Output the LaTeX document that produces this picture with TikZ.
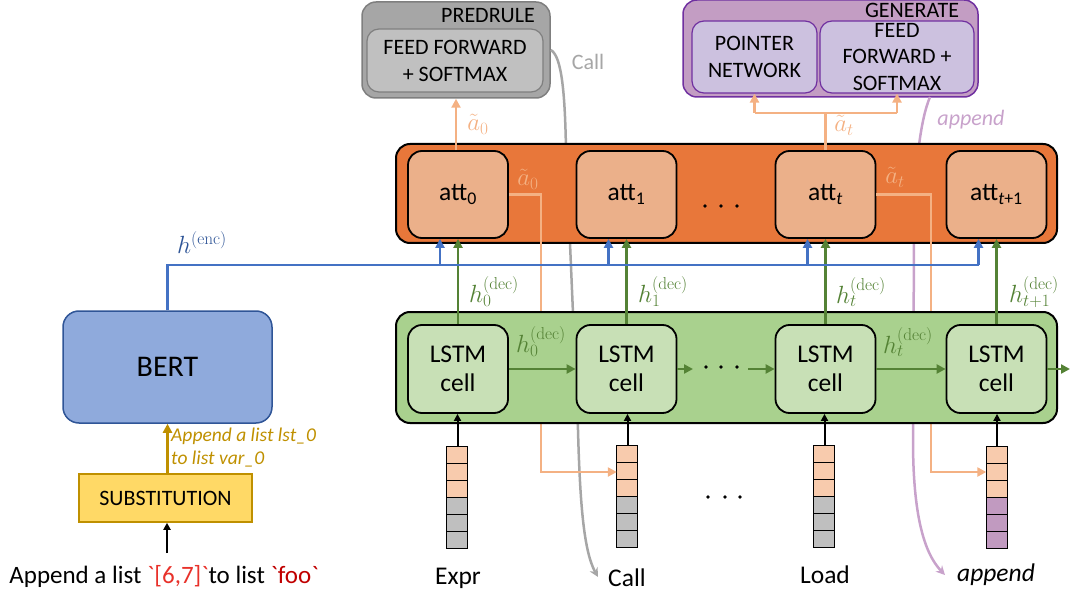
\documentclass[tikz,border=0pt]{standalone}
\usepackage[no-math]{fontspec}
\setmainfont{Carlito}
\usetikzlibrary{arrows.meta,calc}
\definecolor{attBg}{HTML}{E8773A}
\definecolor{attFill}{HTML}{EBB08A}
\definecolor{lstmBg}{HTML}{A9D18E}
\definecolor{cellFill}{HTML}{C8E0B6}
\definecolor{gArrow}{HTML}{548235}
\definecolor{bLine}{HTML}{4472C4}
\definecolor{encLab}{HTML}{2F5597}
\definecolor{bertFill}{HTML}{8FAADC}
\definecolor{bertBorder}{HTML}{2F5597}
\definecolor{substFill}{HTML}{FFD966}
\definecolor{gold}{HTML}{BF9000}
\definecolor{peach}{HTML}{F4B183}
\definecolor{vPeach}{HTML}{F8CBAD}
\definecolor{vGray}{HTML}{BFBFBF}
\definecolor{vPurple}{HTML}{C19AC0}
\definecolor{predOut}{HTML}{A6A6A6}
\definecolor{predIn}{HTML}{C0C0C0}
\definecolor{predBorder}{HTML}{7F7F7F}
\definecolor{genOut}{HTML}{C39DC3}
\definecolor{genIn}{HTML}{CCC1DF}
\definecolor{genBorder}{HTML}{7030A0}
\definecolor{curveGray}{HTML}{A6A6A6}
\definecolor{curvePurple}{HTML}{C8A2CB}
\definecolor{redA}{HTML}{E8312A}
\definecolor{redB}{HTML}{C00000}
\newcommand\fsL{\fontsize{25.5}{29}\selectfont}
\newcommand\fsM{\fontsize{22}{26.5}\selectfont}
\newcommand\fsS{\fontsize{19.5}{23}\selectfont}
\newcommand\fsMath{\fontsize{27}{31}\selectfont}
\newcommand\drawvec[2]{%
  \foreach \k in {0,1,2}{\draw[line width=1.2pt, fill=vPeach] ($(#1.north west)+(0,17*\k)$) rectangle ++(21,17);}
  \foreach \k in {3,4,5}{\draw[line width=1.2pt, fill=#2] ($(#1.north west)+(0,17*\k)$) rectangle ++(21,17);}
}
\begin{document}
\begin{tikzpicture}[x=1pt,y=-1pt,
  every node/.style={inner sep=0pt},
  container/.style={draw=black, line width=2pt, rounded corners=14pt, minimum width=661pt},
  attbox/.style={draw=black, line width=1.8pt, fill=attFill, rounded corners=14pt, minimum width=100pt, minimum height=87pt, font=\fsL},
  cellbox/.style={draw=black, line width=1.8pt, fill=cellFill, rounded corners=14pt, minimum width=100pt, minimum height=88pt, font=\fsL, align=center},
  vecnode/.style={minimum width=21pt, minimum height=102pt},
  tip/.style={-{Triangle[width=9pt,length=9pt]}},
  garr/.style={tip, draw=gArrow, line width=2.5pt},
  barr/.style={tip, draw=bLine, line width=2.5pt},
  bline/.style={draw=bLine, line width=2.5pt},
  pline/.style={draw=peach, line width=2.5pt},
  parr/.style={tip, draw=peach, line width=2.5pt},
  karr/.style={-{Triangle[width=7pt,length=7pt]}, draw=black, line width=2pt},
  curve/.style={line width=2.5pt, -{Stealth[width=9pt,length=9pt]}},
  vlabel/.style={font=\fsL},
  declab/.style={text=gArrow, font=\fsMath},
  alab/.style={text=peach, font=\fsMath}
]
\useasboundingbox (0,0) rectangle (1071,596);

% ---------- PREDRULE ----------
\node[draw=predBorder, line width=1.5pt, fill=predOut, rounded corners=14pt, minimum width=188pt, minimum height=96pt] (predOuter) at (456,50) {};
\node[draw=predBorder, line width=1.2pt, fill=predIn, rounded corners=12pt, minimum width=176pt, minimum height=63pt] (predInner) at (455,60.5) {};
\node[font=\fsM, align=center] (predText) at (455,61) {FEED FORWARD\\+ SOFTMAX};
\node[font=\fsM] (predTitle) at (488,16) {PREDRULE};

% ---------- GENERATE ----------
\node[draw=genBorder, line width=1.5pt, fill=genOut, rounded corners=14pt, minimum width=295pt, minimum height=97pt] (genOuter) at (830.5,48.5) {};
\node[font=\fsM] (genTitle) at (912,10) {GENERATE};
\node[draw=genBorder, line width=1.2pt, fill=genIn, rounded corners=12pt, minimum width=125pt, minimum height=72pt] (ptr) at (754.5,57) {};
\node[font=\fsM, align=center] (ptrText) at (754.5,57) {POINTER\\NETWORK};
\node[draw=genBorder, line width=1.2pt, fill=genIn, rounded corners=12pt, minimum width=154pt, minimum height=72pt] (ffs) at (897,57) {};
\node[font=\fsM, align=center] (ffsText) at (897,57) {FEED\\FORWARD +\\SOFTMAX};

% ---------- curves (behind containers) ----------
\draw[curve, draw=curveGray] (predOuter.east) .. controls (562,56) and (565,95) .. (566,150) -- (578,430) .. controls (580,505) and (584,552) .. (598,577);
\node[text=curveGray, font=\fsM] (callLab) at (588,62) {Call};
\draw[curve, draw=curvePurple] (930,97) .. controls (921,118) and (914,165) .. (914,240) -- (913,440) .. controls (913,515) and (924,553) .. (945,575);
\node[text=curvePurple, font=\fsM\itshape] (appLab) at (971,120) {append};

% ---------- attention row ----------
\node[container, fill=attBg, minimum height=99pt] (attRow) at (726.5,193.5) {};
\node[attbox] (a0) at (458,194.5) {att\textsubscript{0}};
\node[attbox] (a1) at (626.5,194.5) {att\textsubscript{1}};
\node[attbox] (at) at (825.5,194.5) {att\textsubscript{\itshape t}};
\node[attbox] (at1) at (996.5,194.5) {att\textsubscript{\itshape t\upshape +1}};
\foreach \x in {705,721,737} \fill (\x,206) circle (1.8);

% ---------- vectors ----------
\node[vecnode] (v0) at (457.5,498) {};
\node[vecnode] (v1) at (627.5,497) {};
\node[vecnode] (v2) at (824.5,497) {};
\node[vecnode] (v3) at (997,498) {};
\drawvec{v0}{vGray}
\drawvec{v1}{vGray}
\drawvec{v2}{vGray}
\drawvec{v3}{vPurple}

% ---------- peach a~ lines ----------
\coordinate (d0) at (541,472);
\coordinate (dt) at (931,472);
\draw[parr] (a0.east) -| (d0) -- (d0 -| v1.west);
\draw[parr] (at.east) -| (dt) -- (dt -| v3.west);
\node[alab] (a0side) at (528,179) {$\tilde{a}_0$};
\node[alab] (atside) at (895,177) {$\tilde{a}_t$};
\draw[parr] (a0.north) ++(-2,0) coordinate (a0top) -- (a0top |- predOuter.south);
\node[alab] (a0up) at (478,124) {$\tilde{a}_0$};
\coordinate (fk) at (825.5,113);
\draw[pline] (at.north) -- (at.north |- fk);
\draw[pline] (ptr.south |- fk) -- (ffs.south |- fk);
\draw[parr] (ptr.south |- fk) -- (ptr.south);
\draw[parr] (ffs.south |- fk) -- (ffs.south);
\node[alab] (atup) at (844,125) {$\tilde{a}_t$};

% ---------- LSTM row ----------
\node[container, fill=lstmBg, minimum height=111pt] (lstmRow) at (726.5,367.5) {};
\node[cellbox] (c0) at (458,369) {LSTM\\cell};
\node[cellbox] (c1) at (626.5,369) {LSTM\\cell};
\node[cellbox] (ct) at (825.5,369) {LSTM\\cell};
\node[cellbox] (ct1) at (996.5,369) {LSTM\\cell};
\draw[garr] (c0.east) -- (c1.west);
\coordinate (m1) at (693,369);
\coordinate (m2) at (748,369);
\draw[garr] (c1.east) -- (m1);
\foreach \x in {706,721,737} \fill (\x,367) circle (1.8);
\draw[garr] (m2) -- (ct.west);
\draw[garr] (ct.east) -- (ct1.west);
\coordinate (m3) at (1070,369);
\draw[garr] (ct1.east) -- (m3);
\node[declab] (hh0) at (541,342) {$h_0^{(\mathrm{dec})}$};
\node[declab] (hht) at (908,342) {$h_t^{(\mathrm{dec})}$};

% ---------- green vertical arrows ----------
\draw[garr] (c0.north) -- (a0.south);
\draw[garr] (c1.north) -- (a1.south);
\draw[garr] (ct.north) -- (at.south);
\draw[garr] (ct1.north) -- (at1.south);
\node[declab] (hv0) at (494,292) {$h_0^{(\mathrm{dec})}$};
\node[declab] (hv1) at (663,292) {$h_1^{(\mathrm{dec})}$};
\node[declab] (hvt) at (861,292) {$h_t^{(\mathrm{dec})}$};
\node[declab] (hvt1) at (1034,292) {$h_{t+1}^{(\mathrm{dec})}$};

% ---------- vector inputs ----------
\draw[karr] (v0.north) -- (v0.north |- c0.south);
\draw[karr] (v1.north) -- (v1.north |- c1.south);
\draw[karr] (v2.north) -- (v2.north |- ct.south);
\draw[karr] (v3.north) -- (v3.north |- ct1.south);
\node[vlabel] (lExpr) at (458,578) {Expr};
\node[vlabel] (lCall) at (627,578) {Call};
\node[vlabel] (lLoad) at (825,575) {Load};
\node[vlabel, font=\fsL\itshape] (lApp) at (996,575) {append};
\foreach \x in {708,725,740} \fill (\x,497) circle (1.8);

% ---------- BERT side ----------
\node[draw=bertBorder, line width=1.5pt, fill=bertFill, rounded corners=16pt, minimum width=209pt, minimum height=112pt, font=\fontsize{30}{34}\selectfont] (bert) at (167.5,367) {BERT};
\node[draw=gold, line width=1.5pt, fill=substFill, minimum width=173pt, minimum height=48pt, font=\fsM] (subst) at (165.5,498) {SUBSTITUTION};
\draw[tip, draw=gold, line width=2.5pt] (subst.north -| bert.south) -- (bert.south);
\node[text=gold, font=\fsS\itshape, align=left, anchor=west] (goldLab) at (171,448) {Append a list lst\_0\\to list var\_0};
\node[font=\fontsize{25}{29}\selectfont] (intext) at (164,576) {Append a list \textcolor{redA}{\textasciigrave[6,7]\textasciigrave}to list \textcolor{redB}{\textasciigrave foo\textasciigrave}};
\coordinate (inTop) at (167,553);
\draw[karr] (inTop) -- (inTop |- subst.south);

% ---------- encoder line ----------
\coordinate (e0) at (440,265);
\coordinate (e1) at (608.5,265);
\coordinate (e2) at (807.5,265);
\coordinate (e3) at (978.5,265);
\draw[bline] (bert.north) |- (e3);
\draw[barr] (e0) -- (e0 |- a0.south);
\draw[barr] (e1) -- (e1 |- a1.south);
\draw[barr] (e2) -- (e2 |- at.south);
\draw[barr] (e3) -- (e3 |- at1.south);
\node[text=encLab, font=\fsMath] (encLab) at (202,243) {$h^{(\mathrm{enc})}$};
\end{tikzpicture}
\end{document}
